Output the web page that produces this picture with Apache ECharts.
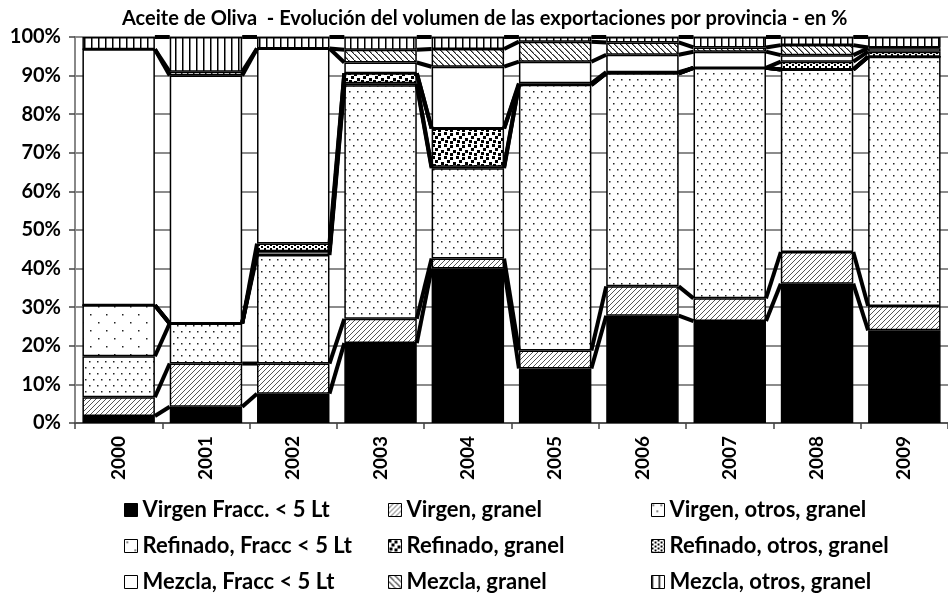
<!DOCTYPE html>
<html>
<head>
<meta charset="utf-8">
<script src="https://cdn.jsdelivr.net/npm/echarts@6/dist/echarts.min.js"></script>
<style>
  html, body { margin: 0; padding: 0; background: #fff; }
  #chart { width: 948px; height: 600px; }
</style>
</head>
<body>
<div id="chart"></div>
<script>
// Export volume share per year (%), one array per product line
const years = ['2000', '2001', '2002', '2003', '2004', '2005', '2006', '2007', '2008', '2009'];
const virgenFracc        = [1.8, 4.2, 7.6, 20.7, 40.0, 14.1, 27.8, 26.4, 36.1, 24.0];
const virgenGranel       = [4.9, 11.2, 7.8, 6.3, 2.6, 4.7, 7.6, 5.9, 8.2, 6.3];
const virgenOtrosGranel  = [10.6, 10.4, 28.1, 60.5, 23.4, 68.8, 55.2, 59.7, 47.3, 64.6];
const refinadoFracc      = [13.2, 0, 1.0, 0.5, 0.4, 0, 0, 0, 0, 0];
const refinadoGranel     = [0, 0, 0, 2.6, 9.9, 0, 0, 0, 0, 0];
const refinadoOtrosGranel= [0, 0, 2.0, 0, 0, 0.4, 0.3, 0, 2.0, 1.3];
const mezclaFracc        = [66.3, 64.2, 50.5, 2.8, 16.0, 5.6, 4.5, 4.2, 1.7, 0.9];
const mezclaGranel       = [0, 1.0, 0, 3.3, 4.6, 5.2, 3.2, 1.1, 2.6, 0.2];
const mezclaOtrosGranel  = [3.2, 9.0, 3.0, 3.3, 3.1, 1.2, 1.4, 2.7, 2.1, 2.7];

const seriesNames = [
  'Virgen Fracc. < 5 Lt', 'Virgen, granel', 'Virgen, otros, granel',
  'Refinado, Fracc < 5 Lt', 'Refinado, granel', 'Refinado, otros, granel',
  'Mezcla, Fracc < 5 Lt', 'Mezcla, granel', 'Mezcla, otros, granel'
];
const seriesValues = [
  virgenFracc, virgenGranel, virgenOtrosGranel,
  refinadoFracc, refinadoGranel, refinadoOtrosGranel,
  mezclaFracc, mezclaGranel, mezclaOtrosGranel
];

const FONT = 'Lato';
const GAP = 0.17;

// Fill patterns drawn on small tiles
function tile(w, h, draw) {
  const c = document.createElement('canvas');
  c.width = w; c.height = h;
  const g = c.getContext('2d');
  g.fillStyle = '#fff';
  g.fillRect(0, 0, w, h);
  draw(g);
  return { image: c, repeat: 'repeat' };
}
const fills = [
  '#000',
  tile(5, 5, g => { g.fillStyle = '#555'; for (let x = 0; x < 5; x++) g.fillRect(x, 4 - x, 1, 1); }),
  tile(8, 12, g => { g.fillStyle = '#222'; g.fillRect(1, 1, 1.5, 1.5); g.fillRect(5, 7, 1.5, 1.5); }),
  tile(16, 16, g => { g.fillStyle = '#222'; g.fillRect(2, 2, 1.5, 1.5); g.fillRect(10, 10, 1.5, 1.5); }),
  tile(12, 12, g => {
    g.fillStyle = '#000';
    [[0, 0], [6, 1], [3, 4], [9, 6], [1, 8], [6, 9]].forEach(p => g.fillRect(p[0], p[1], 3, 3));
  }),
  tile(6, 4, g => { g.fillStyle = '#000'; g.fillRect(0, 0, 2, 2); g.fillRect(3, 2, 2, 2); }),
  '#fff',
  tile(6, 6, g => { g.fillStyle = '#222'; for (let x = 0; x < 6; x++) g.fillRect(x, x, 1.5, 1); }),
  tile(7, 7, g => { g.fillStyle = '#000'; g.fillRect(0, 0, 1.5, 7); })
];

// Running totals give the top of each segment, used for the series lines
const tops = [];
seriesValues.forEach((vals, k) => {
  tops.push(vals.map((v, i) => (k ? tops[k - 1][i] : 0) + v));
});
const connectors = [];
tops.forEach(t => {
  for (let i = 0; i < t.length - 1; i++) connectors.push([i, t[i], t[i + 1]]);
});

const barSeries = seriesNames.map((name, k) => ({
  name: name,
  type: 'bar',
  stack: 'total',
  barCategoryGap: (GAP * 100) + '%',
  data: seriesValues[k],
  itemStyle: { color: fills[k], borderColor: '#000', borderWidth: 1.5 },
  emphasis: { disabled: true },
  z: 2
}));

const lineSeries = {
  type: 'custom',
  data: connectors,
  encode: { x: 0, y: 1 },
  z: 3,
  silent: true,
  renderItem: function (params, api) {
    const i = api.value(0);
    const p0 = api.coord([i, api.value(1)]);
    const p1 = api.coord([i + 1, api.value(2)]);
    const half = api.size([1, 0])[0] * (1 - GAP) / 2;
    return {
      type: 'line',
      shape: { x1: p0[0] + half, y1: p0[1], x2: p1[0] - half, y2: p1[1] },
      style: { stroke: '#000', lineWidth: 4 }
    };
  }
};

const legendText = { fontFamily: FONT, fontWeight: 'bold', fontSize: 22, color: '#000' };
function legendColumn(names, left) {
  return {
    orient: 'vertical',
    left: left,
    top: 494,
    itemGap: 14,
    itemWidth: 13,
    itemHeight: 13,
    icon: 'rect',
    selectedMode: false,
    itemStyle: { borderColor: '#000', borderWidth: 1 },
    textStyle: legendText,
    data: names
  };
}

const chart = echarts.init(document.getElementById('chart'), null, { renderer: 'canvas' });
chart.setOption({
  animation: false,
  backgroundColor: '#fff',
  title: {
    text: 'Aceite de Oliva  - Evolución del volumen de las exportaciones por provincia - en %',
    left: 117,
    top: 4,
    textStyle: { fontFamily: FONT, fontWeight: 'bold', fontSize: 20, color: '#000' }
  },
  legend: [
    legendColumn([seriesNames[0], seriesNames[3], seriesNames[6]], 119),
    legendColumn([seriesNames[1], seriesNames[4], seriesNames[7]], 383),
    legendColumn([seriesNames[2], seriesNames[5], seriesNames[8]], 646)
  ],
  grid: { left: 75, right: -8, top: 37, bottom: 177 },
  xAxis: {
    type: 'category',
    data: years,
    axisLine: { lineStyle: { color: '#444', width: 1.5 } },
    axisTick: { show: true, length: 6, lineStyle: { color: '#444', width: 1.5 } },
    axisLabel: { rotate: 90, margin: 13, fontFamily: FONT, fontWeight: 'bold', fontSize: 19, color: '#000' }
  },
  yAxis: {
    type: 'value',
    min: 0,
    max: 100,
    interval: 10,
    axisLine: { show: true, lineStyle: { color: '#888', width: 2 } },
    axisTick: { show: true, length: 6, lineStyle: { color: '#444', width: 1.5 } },
    axisLabel: { formatter: '{value}%', margin: 14, fontFamily: FONT, fontWeight: 'bold', fontSize: 20, color: '#000' },
    splitLine: { show: true, lineStyle: { color: '#666', width: 1.5 } }
  },
  series: barSeries.concat([lineSeries])
});
</script>
</body>
</html>
